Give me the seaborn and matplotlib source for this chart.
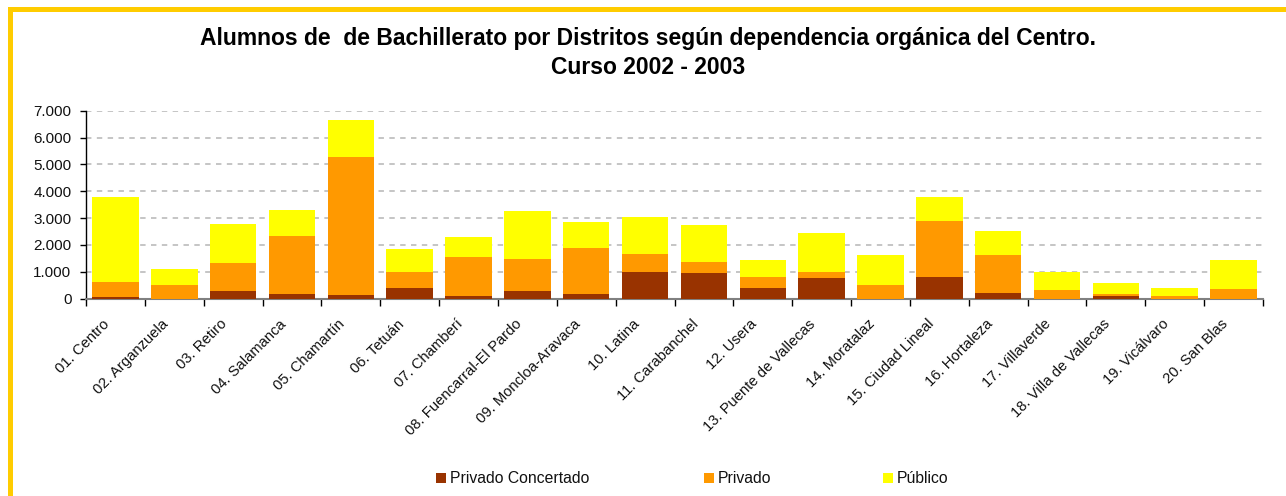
import numpy as np
import pandas as pd
import matplotlib
matplotlib.use("Agg")
import matplotlib.pyplot as plt
import matplotlib.transforms as mtransforms
import seaborn as sns
from matplotlib.patches import Rectangle
from matplotlib.ticker import FuncFormatter, MultipleLocator, FixedLocator

distritos = ["01. Centro", "02. Arganzuela", "03. Retiro", "04. Salamanca", "05. Chamartín",
             "06. Tetuán", "07. Chamberí", "08. Fuencarral-El Pardo", "09. Moncloa-Aravaca",
             "10. Latina", "11. Carabanchel", "12. Usera", "13. Puente de Vallecas",
             "14. Moratalaz", "15. Ciudad Lineal", "16. Hortaleza", "17. Villaverde",
             "18. Villa de Vallecas", "19. Vicálvaro", "20. San Blas"]
privado_concertado = [60, 0, 285, 174, 136, 397, 99, 285, 174, 993, 955, 397, 769, 0, 806, 211, 0, 99, 0, 0]
privado = [560, 509, 1043, 2159, 5137, 596, 1452, 1191, 1712, 670, 410, 409, 224, 509, 2085, 1414, 323, 75, 99, 360]
publico = [3164, 595, 1451, 967, 1377, 856, 744, 1787, 968, 1377, 1377, 633, 1451, 1116, 893, 894, 670, 409, 298, 1079]

series_names = ["Privado Concertado", "Privado", "Público"]
colors = ["#993300", "#FF9900", "#FFFF00"]

sns.set_theme(style="white")
plt.rcParams['font.family'] = ['Liberation Sans', 'DejaVu Sans']

fig = plt.figure(figsize=(12.86, 4.96), dpi=100)
W, H = 1286, 496
ax = fig.add_axes([86 / W, 1 - 298.7 / H, (1263 - 86) / W, (298.7 - 110.7) / H])

c = np.array(privado_concertado)
p = c + np.array(privado)
t = p + np.array(publico)
df = pd.DataFrame({"distrito": distritos, "c": c, "p": p, "t": t})

for col, colr in zip(["t", "p", "c"], colors[::-1]):
    sns.barplot(data=df, x="distrito", y=col, color=colr, saturation=1, width=0.79,
                edgecolor="none", linewidth=0, ax=ax, zorder=3)

ax.set_xlim(-0.5, len(distritos) - 0.5)
ax.set_ylim(0, 7000)
ax.set_xlabel("")
ax.set_ylabel("")
ax.yaxis.set_major_locator(MultipleLocator(1000))
ax.yaxis.set_major_formatter(FuncFormatter(lambda v, pos: f"{int(v):,}".replace(",", ".")))
ax.yaxis.grid(True, color="#C0C0C0", linestyle=(0, (3, 3)), linewidth=1.3, zorder=0)
ax.set_axisbelow(True)

# x tick labels at centers; tick marks at boundaries
ax.set_xticks(range(len(distritos)))
ax.set_xticklabels(distritos, rotation=45, ha="right", rotation_mode="anchor", fontsize=10.6, color="#111111")
ax.tick_params(axis="x", which="major", length=0, pad=14.5)
ax.xaxis.set_minor_locator(FixedLocator(np.arange(-0.5, len(distritos), 1.0)))
ax.tick_params(axis="x", which="minor", length=5, width=1, color="#000000", direction="out", bottom=True)
ax.tick_params(axis="y", length=4, width=1, color="#000000", direction="out", left=True,
               labelsize=11, labelcolor="#111111", pad=6.5)

for s in ["top", "right"]:
    ax.spines[s].set_visible(False)
ax.spines["left"].set_color("#000000")
ax.spines["left"].set_linewidth(1)
ax.spines["bottom"].set_color("#808080")
ax.spines["bottom"].set_linewidth(1.5)

fig.text(648 / W, 1 - 38 / H, "Alumnos de  de Bachillerato por Distritos según dependencia orgánica del Centro.",
         ha="center", va="center", fontsize=16.5, fontweight="bold", color="#000000")
fig.text(648 / W, 1 - 68 / H, "Curso 2002 - 2003", ha="center", va="center",
         fontsize=16.5, fontweight="bold", color="#000000")

# Legend
leg_x = [435.5, 704, 883]
for name, colr, lx in zip(series_names, colors, leg_x):
    fig.patches.append(Rectangle((lx / W, 1 - 483 / H), 10 / W, 10 / H,
                                 transform=fig.transFigure, facecolor=colr, edgecolor="none"))
    fig.text((lx + 14) / W, 1 - 478.5 / H, name, ha="left", va="center", fontsize=11.3, color="#111111")

# Yellow border
fig.patches.append(Rectangle((9.5 / W, -0.1), (1287.5 - 9.5) / W, 1.1 - 9 / H,
                             transform=fig.transFigure, facecolor="none", edgecolor="#FFCC00",
                             linewidth=3.6, zorder=10))

# Fine-position the rotated x labels: right end slightly left of the category centre
fig.canvas.draw()
renderer = fig.canvas.get_renderer()
for i, lbl in enumerate(ax.get_xticklabels()):
    bb = lbl.get_window_extent(renderer)
    cx = ax.transData.transform((i, 0))[0]
    dx = (cx - 3) - bb.x1
    dy = (H - 317) - bb.y1
    lbl.set_transform(lbl.get_transform() + mtransforms.Affine2D().translate(dx, dy))

fig.savefig("out.png", dpi=100, facecolor="white")
